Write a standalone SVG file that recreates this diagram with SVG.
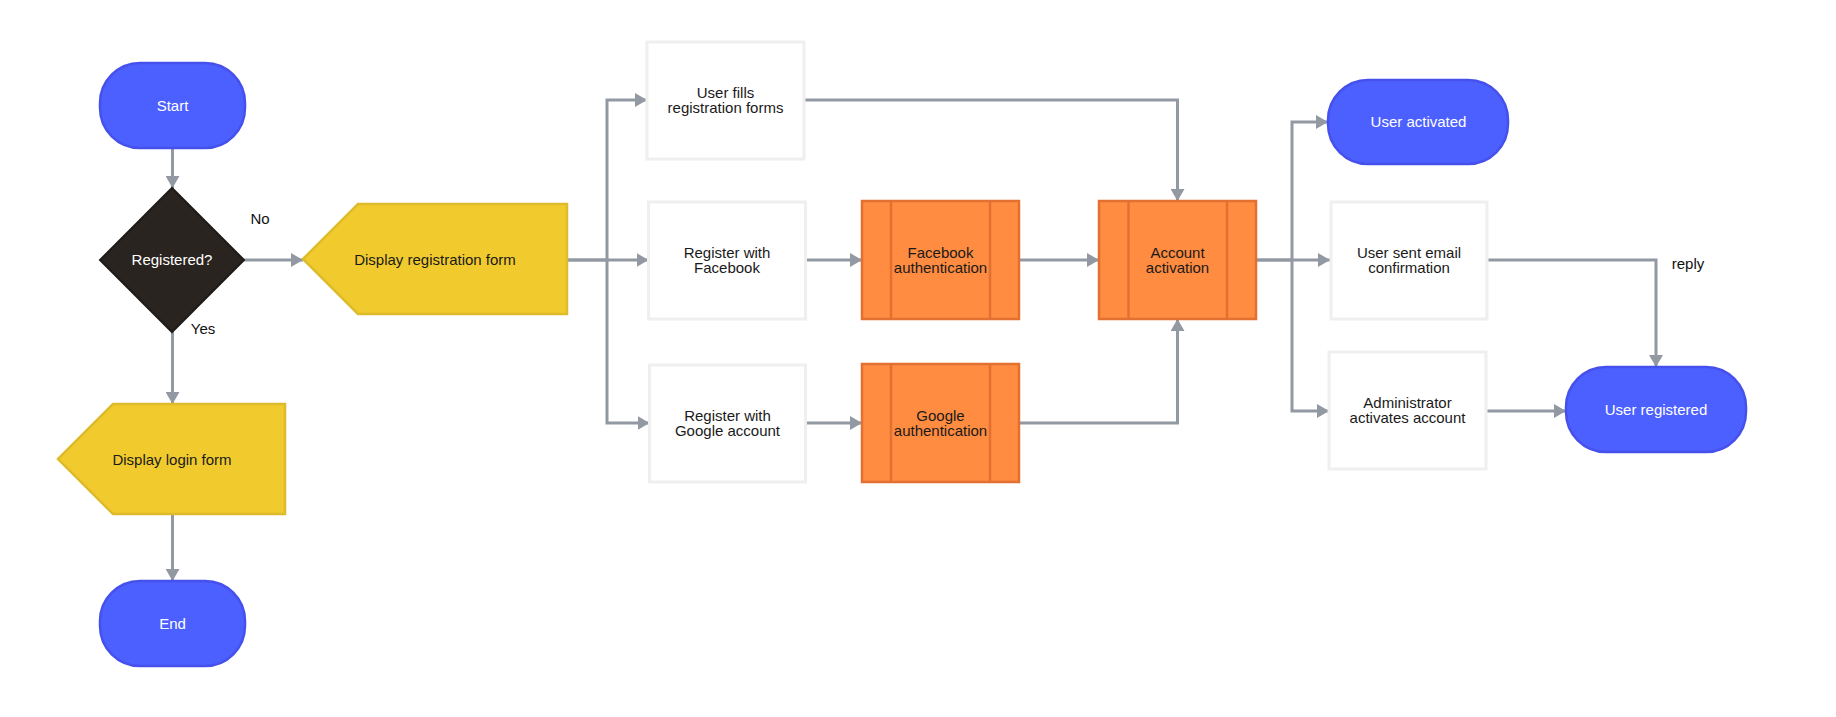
<svg xmlns="http://www.w3.org/2000/svg" width="1836" height="717" viewBox="0 0 1836 717">
<style>
text{font-family:"Liberation Sans",Arial,sans-serif;font-size:15px;text-anchor:middle;fill:#1a1a1a}
.term rect{fill:#4C60FF;stroke:#4650EC;stroke-width:2.5}
.term text,.dec text{fill:#ffffff}
.dec polygon{fill:#2A2420;stroke:#1E1A17;stroke-width:2}
.disp polygon{fill:#F1CB2E;stroke:#DDBB2A;stroke-width:2.5}
.proc rect{fill:#ffffff;stroke:#EFEFEF;stroke-width:3}
.sub rect{fill:#FF8C40;stroke:#E27032;stroke-width:2.5}
.sub line{stroke:#E27032;stroke-width:2.5}
.conn path{fill:none;stroke:#9299A2;stroke-width:3}
.lbl{fill:#111111}
</style>
<defs>
<marker id="arr" viewBox="0 0 12 14" refX="12" refY="7" markerWidth="12" markerHeight="14" markerUnits="userSpaceOnUse" orient="auto">
<path d="M0,0 L12,7 L0,14 z" fill="#9299A2"/>
</marker>
</defs>
<rect width="1836" height="717" fill="#ffffff"/>

<g class="conn">
<path d="M172.5,148 V188" marker-end="url(#arr)"/>
<path d="M244,260 H303" marker-end="url(#arr)"/>
<path d="M172.5,332 V404" marker-end="url(#arr)"/>
<path d="M172.5,514 V581" marker-end="url(#arr)"/>
<path d="M567,260 H607 V100 H647" marker-end="url(#arr)"/>
<path d="M567,260 H648.5" marker-end="url(#arr)"/>
<path d="M607,260 V423 H649.5" marker-end="url(#arr)"/>
<path d="M805.5,260 H862" marker-end="url(#arr)"/>
<path d="M805.5,423 H862" marker-end="url(#arr)"/>
<path d="M1019,260 H1099" marker-end="url(#arr)"/>
<path d="M804,100 H1177.5 V201" marker-end="url(#arr)"/>
<path d="M1019,423 H1177.5 V319" marker-end="url(#arr)"/>
<path d="M1256,260 H1292 V122 H1328" marker-end="url(#arr)"/>
<path d="M1256,260 H1330" marker-end="url(#arr)"/>
<path d="M1292,260 V411 H1329" marker-end="url(#arr)"/>
<path d="M1487,260 H1656 V367" marker-end="url(#arr)"/>
<path d="M1486,411 H1566" marker-end="url(#arr)"/>
</g>
<g id="labels">
<text class="lbl" x="260" y="224">No</text>
<text class="lbl" x="203" y="334">Yes</text>
<text class="lbl" x="1688" y="269">reply</text>
</g>

<g id="start" class="term"><rect x="100" y="63" width="145" height="85" rx="40"/><text x="172.5" y="110.5">Start</text></g>
<g id="registered" class="dec"><polygon points="172,188 244,260 172,332 100,260"/><text x="172" y="265">Registered?</text></g>
<g id="display-registration" class="disp"><polygon points="303,259 358,204 567,204 567,314 358,314"/><text x="435" y="264.5">Display registration form</text></g>
<g id="display-login" class="disp"><polygon points="58,459 113,404 285,404 285,514 113,514"/><text x="172" y="464.5">Display login form</text></g>
<g id="end" class="term"><rect x="100" y="581" width="145" height="85" rx="40"/><text x="172.5" y="628.5">End</text></g>

<g id="user-fills" class="proc"><rect x="647" y="42" width="157" height="117"/><text x="725.5" y="97.5">User fills</text><text x="725.5" y="112.5">registration forms</text></g>
<g id="register-facebook" class="proc"><rect x="648.5" y="202" width="157" height="117"/><text x="727" y="257.5">Register with</text><text x="727" y="272.5">Facebook</text></g>
<g id="register-google" class="proc"><rect x="649.5" y="365" width="156" height="117"/><text x="727.5" y="420.5">Register with</text><text x="727.5" y="435.5">Google account</text></g>

<g id="facebook-auth" class="sub"><rect x="862" y="201" width="157" height="118"/><line x1="891" y1="201" x2="891" y2="319"/><line x1="990" y1="201" x2="990" y2="319"/><text x="940.5" y="257.5">Facebook</text><text x="940.5" y="272.5">authentication</text></g>
<g id="google-auth" class="sub"><rect x="862" y="364" width="157" height="118"/><line x1="891" y1="364" x2="891" y2="482"/><line x1="990" y1="364" x2="990" y2="482"/><text x="940.5" y="420.5">Google</text><text x="940.5" y="435.5">authentication</text></g>
<g id="account-activation" class="sub"><rect x="1099" y="201" width="157" height="118"/><line x1="1128.5" y1="201" x2="1128.5" y2="319"/><line x1="1227" y1="201" x2="1227" y2="319"/><text x="1177.5" y="257.5">Account</text><text x="1177.5" y="272.5">activation</text></g>

<g id="user-activated" class="term"><rect x="1328" y="80" width="180" height="84" rx="40"/><text x="1418.5" y="127">User activated</text></g>
<g id="user-sent-email" class="proc"><rect x="1331" y="202" width="156" height="117"/><text x="1409" y="257.5">User sent email</text><text x="1409" y="272.5">confirmation</text></g>
<g id="administrator" class="proc"><rect x="1329" y="352" width="157" height="117"/><text x="1407.5" y="407.5">Administrator</text><text x="1407.5" y="422.5">activates account</text></g>
<g id="user-registered" class="term"><rect x="1566" y="367" width="180" height="85" rx="40"/><text x="1656" y="414.5">User registered</text></g>
</svg>
